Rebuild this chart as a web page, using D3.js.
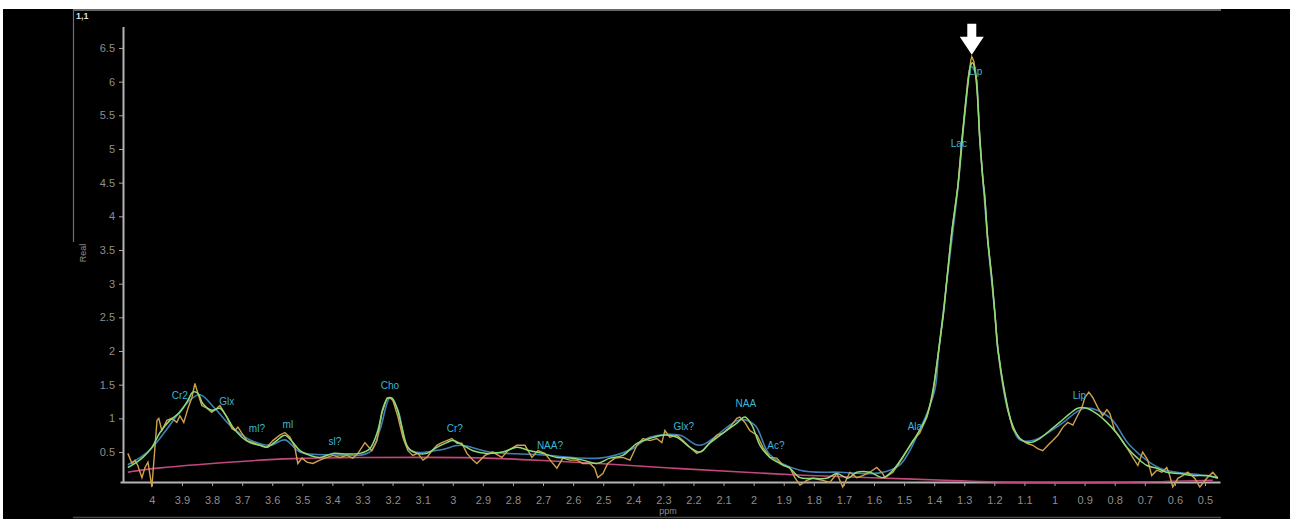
<!DOCTYPE html>
<html>
<head>
<meta charset="utf-8">
<script src="https://cdn.jsdelivr.net/npm/d3@7"></script>
<style>
  body { margin: 0; background: #fff; }
  svg { display: block; }
  .tick text { fill: #8e8e8e; font-family: "Liberation Sans", Arial, sans-serif; font-size: 11px; }
  .tick line { stroke: #a8a8a8; }
</style>
</head>
<body>
<script>
// ppm / amplitude pairs
const xTicks = [4, 3.9, 3.8, 3.7, 3.6, 3.5, 3.4, 3.3, 3.2, 3.1, 3, 2.9, 2.8, 2.7, 2.6, 2.5, 2.4, 2.3, 2.2, 2.1, 2, 1.9, 1.8, 1.7, 1.6, 1.5, 1.4, 1.3, 1.2, 1.1, 1, 0.9, 0.8, 0.7, 0.6, 0.5]
const yTicks = [0.5, 1, 1.5, 2, 2.5, 3, 3.5, 4, 4.5, 5, 5.5, 6, 6.5]

const rawSpectrum = [
  [4.080,0.48],[4.066,0.33],[4.056,0.38],[4.047,0.30],[4.033,0.12],[4.023,0.27],[4.013,0.35],[4.000,-0.02],
  [3.983,0.97],[3.977,1.00],[3.967,0.82],[3.950,0.97],[3.934,1.00],[3.917,0.94],[3.907,1.04],[3.894,0.94],
  [3.880,1.15],[3.867,1.31],[3.857,1.52],[3.847,1.37],[3.834,1.19],[3.817,1.15],[3.801,1.09],[3.784,1.15],
  [3.774,1.19],[3.764,1.12],[3.751,1.02],[3.734,0.85],[3.724,0.82],[3.714,0.87],[3.701,0.78],[3.684,0.67],
  [3.664,0.64],[3.641,0.60],[3.618,0.57],[3.598,0.67],[3.575,0.75],[3.558,0.79],[3.541,0.72],[3.525,0.57],
  [3.515,0.33],[3.501,0.41],[3.485,0.35],[3.465,0.33],[3.442,0.38],[3.418,0.42],[3.398,0.45],[3.375,0.42],
  [3.352,0.45],[3.332,0.41],[3.315,0.48],[3.292,0.64],[3.269,0.52],[3.252,0.67],[3.236,1.07],[3.219,1.30],
  [3.209,1.31],[3.199,1.27],[3.182,1.02],[3.166,0.72],[3.149,0.52],[3.133,0.45],[3.116,0.48],[3.099,0.38],
  [3.086,0.42],[3.069,0.52],[3.053,0.60],[3.036,0.64],[3.020,0.67],[3.003,0.70],[2.986,0.63],[2.970,0.63],
  [2.953,0.48],[2.933,0.38],[2.920,0.33],[2.893,0.45],[2.867,0.50],[2.837,0.42],[2.817,0.52],[2.787,0.60],
  [2.760,0.60],[2.737,0.42],[2.717,0.52],[2.694,0.48],[2.671,0.35],[2.654,0.26],[2.634,0.41],[2.611,0.38],
  [2.588,0.38],[2.568,0.33],[2.544,0.33],[2.528,0.26],[2.518,0.12],[2.501,0.18],[2.485,0.33],[2.461,0.41],
  [2.435,0.42],[2.411,0.38],[2.388,0.60],[2.368,0.70],[2.345,0.67],[2.322,0.70],[2.305,0.64],[2.295,0.82],
  [2.279,0.72],[2.255,0.75],[2.235,0.67],[2.212,0.57],[2.189,0.48],[2.169,0.52],[2.146,0.64],[2.122,0.75],
  [2.102,0.78],[2.079,0.87],[2.056,1.00],[2.046,1.02],[2.029,0.94],[2.013,0.82],[1.989,0.75],[1.969,0.57],
  [1.946,0.42],[1.923,0.41],[1.903,0.30],[1.880,0.27],[1.863,0.12],[1.846,0.01],[1.823,0.08],[1.803,0.11],
  [1.770,0.08],[1.747,0.05],[1.723,0.18],[1.704,-0.02],[1.680,0.20],[1.657,0.12],[1.637,0.15],[1.614,0.20],
  [1.591,0.27],[1.571,0.18],[1.564,0.12],[1.537,0.20],[1.504,0.42],[1.471,0.67],[1.448,0.78],[1.424,1.02],
  [1.404,1.37],[1.385,2.01],[1.368,2.61],[1.358,3.05],[1.341,3.79],[1.321,4.46],[1.308,5.13],[1.295,5.73],
  [1.288,6.02],[1.278,6.32],[1.275,6.37],[1.268,6.30],[1.258,6.00],[1.248,5.10],[1.238,4.54],[1.232,4.30],
  [1.222,3.65],[1.208,3.06],[1.198,2.54],[1.188,2.02],[1.172,1.52],[1.155,1.12],[1.139,0.85],[1.115,0.70],
  [1.092,0.63],[1.072,0.60],[1.056,0.55],[1.039,0.52],[1.022,0.60],[1.006,0.67],[0.989,0.75],[0.972,0.87],
  [0.956,0.94],[0.939,0.90],[0.926,1.02],[0.909,1.16],[0.899,1.31],[0.886,1.39],[0.873,1.31],[0.856,1.16],
  [0.840,1.04],[0.826,1.13],[0.816,1.07],[0.800,0.82],[0.783,0.72],[0.760,0.57],[0.740,0.42],[0.723,0.30],
  [0.707,0.50],[0.690,0.38],[0.677,0.15],[0.660,0.23],[0.643,0.20],[0.627,0.27],[0.617,0.15],[0.607,-0.02],
  [0.590,0.11],[0.574,0.15],[0.557,0.20],[0.534,0.11],[0.517,-0.02],[0.494,0.11],[0.474,0.20],[0.457,0.11]
]

const fitSpectrum = [
  [4.080,0.27],[4.050,0.35],[4.030,0.42],[4.000,0.57],[3.973,0.79],[3.940,0.97],[3.907,1.09],[3.880,1.27],
  [3.864,1.39],[3.847,1.37],[3.831,1.22],[3.801,1.12],[3.774,1.15],[3.751,1.02],[3.731,0.87],[3.701,0.72],
  [3.674,0.64],[3.641,0.60],[3.618,0.57],[3.585,0.67],[3.558,0.75],[3.531,0.64],[3.508,0.52],[3.475,0.45],
  [3.442,0.42],[3.398,0.48],[3.352,0.47],[3.309,0.48],[3.276,0.55],[3.249,0.82],[3.232,1.15],[3.216,1.30],
  [3.202,1.30],[3.186,1.16],[3.169,0.87],[3.149,0.57],[3.119,0.48],[3.086,0.48],[3.053,0.57],[3.020,0.64],
  [3.000,0.67],[2.966,0.60],[2.933,0.52],[2.887,0.48],[2.834,0.50],[2.787,0.57],[2.744,0.52],[2.701,0.48],
  [2.654,0.42],[2.611,0.41],[2.568,0.38],[2.521,0.33],[2.478,0.41],[2.435,0.45],[2.388,0.63],[2.345,0.70],
  [2.302,0.75],[2.255,0.72],[2.212,0.57],[2.179,0.50],[2.146,0.63],[2.102,0.78],[2.056,0.93],[2.029,1.02],
  [2.006,0.90],[1.979,0.60],[1.946,0.42],[1.913,0.33],[1.880,0.26],[1.846,0.12],[1.803,0.11],[1.757,0.11],
  [1.723,0.18],[1.687,0.11],[1.657,0.20],[1.614,0.20],[1.571,0.12],[1.537,0.23],[1.491,0.52],[1.458,0.75],
  [1.424,1.04],[1.404,1.42],[1.385,2.01],[1.368,2.60],[1.358,3.05],[1.341,3.78],[1.321,4.45],[1.308,5.10],
  [1.295,5.68],[1.288,5.95],[1.278,6.25],[1.272,6.28],[1.265,6.18],[1.258,5.90],[1.248,5.15],[1.238,4.55],
  [1.232,4.30],[1.222,3.66],[1.208,3.07],[1.198,2.55],[1.188,2.02],[1.165,1.37],[1.142,0.93],[1.115,0.70],
  [1.082,0.64],[1.049,0.70],[1.016,0.82],[0.983,0.94],[0.949,1.07],[0.923,1.15],[0.893,1.15],[0.860,1.07],
  [0.826,0.94],[0.793,0.78],[0.760,0.57],[0.727,0.42],[0.693,0.30],[0.660,0.26],[0.627,0.20],[0.584,0.18],
  [0.540,0.15],[0.494,0.15],[0.457,0.11]
]

const smoothSpectrum = [
  [4.080,0.31],[4.007,0.53],[3.874,1.27],[3.840,1.35],[3.791,1.15],[3.741,0.90],[3.674,0.68],[3.608,0.60],
  [3.558,0.68],[3.508,0.50],[3.408,0.46],[3.276,0.50],[3.242,0.83],[3.209,1.30],[3.182,1.12],[3.143,0.53],
  [3.043,0.53],[2.976,0.60],[2.877,0.50],[2.711,0.46],[2.511,0.41],[2.411,0.53],[2.345,0.72],[2.245,0.75],
  [2.179,0.60],[2.046,0.98],[1.996,0.90],[1.946,0.46],[1.846,0.23],[1.714,0.20],[1.581,0.19],[1.514,0.31],
  [1.448,0.83],[1.398,1.42],[1.385,2.00],[1.358,3.03],[1.321,4.43],[1.295,5.65],[1.278,6.22],[1.265,6.15],
  [1.248,5.12],[1.222,3.64],[1.198,2.54],[1.188,2.00],[1.155,1.12],[1.115,0.68],[1.066,0.68],[0.983,0.90],
  [0.899,1.15],[0.816,1.01],[0.750,0.60],[0.650,0.26],[0.517,0.16],[0.457,0.13]
]

const baseline = [
  [4.080,0.20],[4.000,0.26],[3.751,0.35],[3.531,0.41],[3.309,0.42],[3.086,0.42],[2.910,0.42],[2.721,0.38],
  [2.501,0.33],[2.279,0.26],[2.056,0.21],[1.837,0.15],[1.614,0.12],[1.358,0.08],[1.139,0.04],[0.806,0.04],
  [0.474,0.08]
]

const peakNames = ["Cr2", "Glx", "ml?", "ml", "sl?", "Cho", "Cr?", "NAA?", "Glx?", "NAA", "Ac?", "Ala", "Lac", "Lip", "Lip"]
const peakPpm   = [3.907, 3.751, 3.651, 3.548, 3.392, 3.209, 2.993, 2.677, 2.232, 2.026, 1.926, 1.464, 1.318, 1.262, 0.917]
const peakVal   = [1.32, 1.24, 0.84, 0.90, 0.65, 1.48, 0.83, 0.58, 0.87, 1.21, 0.58, 0.87, 5.07, 6.14, 1.32]

let W = 1290, H = 519
let svg = d3.select("body").append("svg").attr("width", W).attr("height", H)

// black panel of the screenshot with its thin frame
svg.append("rect").attr("x", 3).attr("y", 9).attr("width", W-3).attr("height", H-9).attr("fill", "#000")
svg.append("line").attr("x1", 73).attr("x2", 1221).attr("y1", 10).attr("y2", 10).attr("stroke", "#8a8a8a").attr("stroke-width", 1.5)
svg.append("line").attr("x1", 73.5).attr("x2", 73.5).attr("y1", 10).attr("y2", 242).attr("stroke", "#6e6e6e").attr("stroke-width", 1.2)
svg.append("line").attr("x1", 73).attr("x2", 1221).attr("y1", 517.5).attr("y2", 517.5).attr("stroke", "#4a4a4a").attr("stroke-width", 1.5)

svg.append("text").attr("x", 76).attr("y", 19).text("1,1")
    .attr("fill", "#ddd").attr("font-size", 9).attr("font-weight", "bold").attr("font-family", "Liberation Sans, Arial, sans-serif")

let xScale = d3.scaleLinear().domain([4.106, 0.45]).range([120, 1220])
let yScale = d3.scaleLinear().domain([0.055, 6.82]).range([482, 26.4])

let xAxis = d3.axisBottom(xScale).tickValues(xTicks).tickSize(4).tickSizeOuter(0).tickPadding(10)
    .tickFormat(d => String(+d.toFixed(1)))
let yAxis = d3.axisLeft(yScale).tickValues(yTicks).tickSize(4).tickSizeOuter(0).tickPadding(4)
    .tickFormat(d => String(d))

let gx = svg.append("g").attr("transform", `translate(0, ${yScale(0.055)})`).call(xAxis)
gx.select(".domain").attr("stroke", "#b4b4b4").attr("stroke-width", 2)
let gy = svg.append("g").attr("transform", `translate(123, 0)`).call(yAxis)
gy.select(".domain").attr("stroke", "#b4b4b4").attr("stroke-width", 2)

svg.append("text").attr("x", 668).attr("y", 514).attr("text-anchor", "middle").text("ppm")
    .attr("fill", "#8e8e8e").attr("font-size", 9).attr("font-family", "Liberation Sans, Arial, sans-serif")
svg.append("text").attr("transform", "translate(86, 253) rotate(-90)").attr("text-anchor", "middle").text("Real")
    .attr("fill", "#8e8e8e").attr("font-size", 9).attr("font-family", "Liberation Sans, Arial, sans-serif")

let line = d3.line().x(d => xScale(d[0])).y(d => yScale(d[1]))

svg.append("path").datum(baseline).attr("d", line.curve(d3.curveBasis))
    .attr("fill", "none").attr("stroke", "#c2477c").attr("stroke-width", 1.6)
svg.append("path").datum(smoothSpectrum).attr("d", line.curve(d3.curveCatmullRom))
    .attr("fill", "none").attr("stroke", "#3f7fb4").attr("stroke-width", 1.6)
svg.append("path").datum(rawSpectrum).attr("d", line.curve(d3.curveLinear))
    .attr("fill", "none").attr("stroke", "#d0a04c").attr("stroke-width", 1.4)
svg.append("path").datum(fitSpectrum).attr("d", line.curve(d3.curveCatmullRom))
    .attr("fill", "none").attr("stroke", "#8ddc78").attr("stroke-width", 1.5)

svg.selectAll(".peak").data(peakNames).enter().append("text")
    .attr("class", "peak")
    .attr("x", (d,i) => xScale(peakPpm[i]))
    .attr("y", (d,i) => yScale(peakVal[i]))
    .attr("text-anchor", "middle").attr("dominant-baseline", "middle")
    .attr("fill", "#3cb6d8").attr("font-size", 10).attr("font-family", "Liberation Sans, Arial, sans-serif")
    .text(d => d)

// white arrow above the tallest point
let peakTop = rawSpectrum.reduce((a,b) => b[1] > a[1] ? b : a)
let ax = xScale(peakTop[0]), ay = yScale(peakTop[1]) - 2
svg.append("path")
    .attr("d", `M${ax},${ay} L${ax-12},${ay-18} L${ax-4.5},${ay-18} L${ax-4.5},${ay-31} L${ax+4.5},${ay-31} L${ax+4.5},${ay-18} L${ax+12},${ay-18} Z`)
    .attr("fill", "#fff")
</script>
</body>
</html>
